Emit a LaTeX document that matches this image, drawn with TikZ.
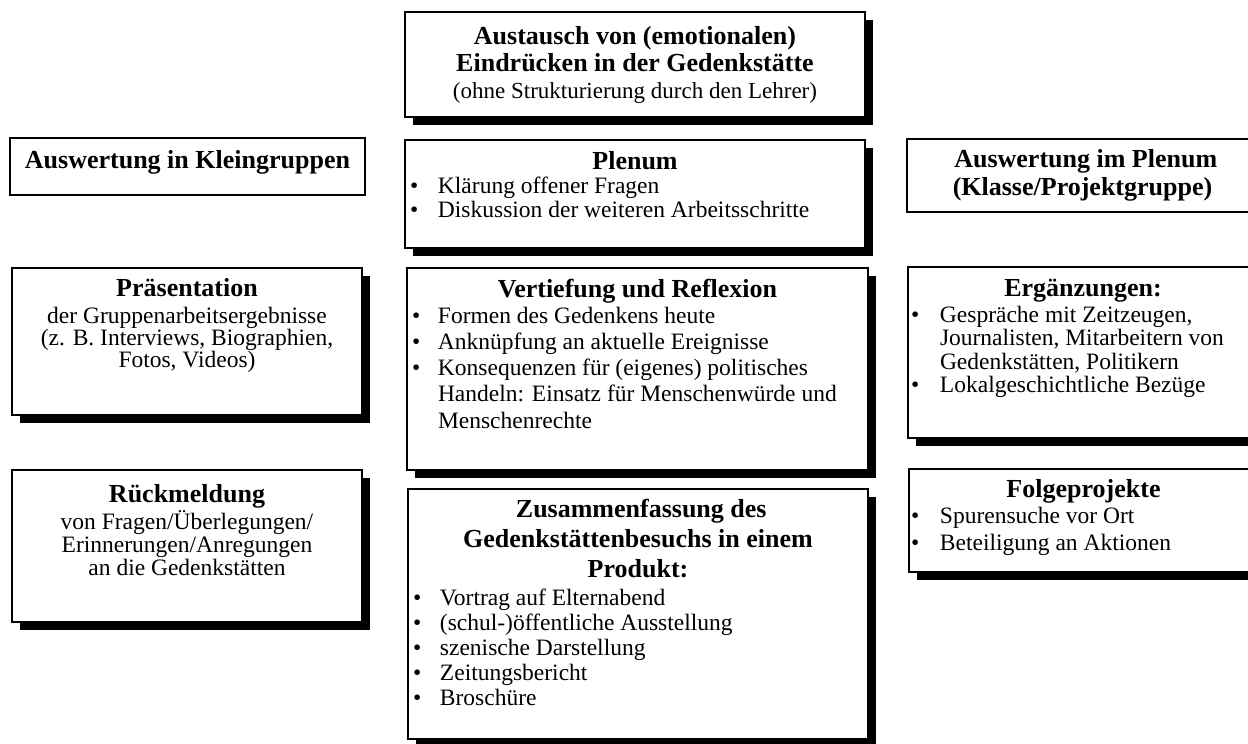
\documentclass[tikz,border=0pt]{standalone}
\usepackage{fontspec}
\setmainfont{Liberation Serif}
\usetikzlibrary{shadows}
\tikzset{
  box/.style={draw, line width=1.6pt, fill=white, inner sep=0pt, outer sep=0pt, anchor=north west, rectangle},
  shbox/.style={box, drop shadow={shadow xshift=8pt, shadow yshift=-8pt, fill=black, opacity=1}},
}
\newcommand\bx[3]{\parbox[c][#2pt][t]{#1pt}{\setlength\parindent{0pt}\lineskiplimit=-100pt\lineskip=0pt #3}}
\newcommand\fl[1]{\rule{0pt}{#1pt}}
\newcommand\hdfont[1][27]{\bfseries\fontsize{26}{#1}\selectfont}
\newcommand\bdfont[1]{\mdseries\fontsize{23.5}{#1}\selectfont}
% #1 bullet offset, #2 text offset, #3 text
\newcommand\bitem[3]{\par\hangindent=#2pt\hangafter=1\noindent\makebox[#2pt][l]{\hspace{#1pt}\textbullet}#3\par}
\begin{document}
\begin{tikzpicture}[x=1pt,y=-1pt]
\useasboundingbox (0,0) rectangle (1248,744);
\clip (0,0) rectangle (1248,744);
% top
\node[shbox] (top) at (405,12) {\bx{460}{105}{\centering\fl{32}\hdfont Austausch von (emotionalen)\\ Eindrücken in der Gedenkstätte\par
  {\mdseries\fontsize{23}{27}\selectfont (ohne Strukturierung durch den Lehrer)\par}}};
% row 2
\node[box] (klein) at (10,138) {\bx{355}{57}{\centering\fl{30}\hdfont Auswertung in Kleingruppen\par}};
\node[shbox] (plenum) at (405,140) {\bx{460}{108}{{\centering\fl{29}\hdfont Plenum\par}\bdfont{24}\raggedright
  \bitem{5}{33}{Klärung offener Fragen}\bitem{5}{33}{Diskussion der weiteren Arbeitsschritte}}};
\node[box] (ausplen) at (907,139) {\bx{351}{73}{\centering\fl{28}\hdfont[28] Auswertung im Plenum\\ (Klasse/Projektgruppe)\par}};
% row 3
\node[shbox] (praes) at (12,268) {\bx{350}{147}{\centering\fl{28}\hdfont Präsentation\par\bdfont{22}\vspace{5pt}
  der Gruppenarbeitsergebnisse\\ (z. B. Interviews, Biographien,\\ Fotos, Videos)\par}};
\node[shbox] (vert) at (407,268) {\bx{461}{202}{{\centering\fl{29}\hdfont Vertiefung und Reflexion\par}\bdfont{26.2}\raggedright
  \bitem{5}{31}{Formen des Gedenkens heute}\bitem{5}{31}{Anknüpfung an aktuelle Ereignisse}
  \bitem{5}{31}{Konsequenzen für (eigenes) politisches\newline Handeln: Einsatz für Menschenwürde und\newline Menschenrechte}}};
\node[shbox] (erg) at (908,267) {\bx{350}{171}{{\centering\fl{29}\hdfont Ergänzungen:\par}\bdfont{23.5}\raggedright\vspace{2.5pt}
  \bitem{3}{32}{Gespräche mit Zeitzeugen,\newline Journalisten, Mitarbeitern von\newline Gedenkstätten, Politikern}
  \bitem{3}{32}{Lokalgeschichtliche Bezüge}}};
% row 4
\node[shbox] (rueck) at (12,470) {\bx{350}{152}{\centering\fl{32}\hdfont Rückmeldung\par\bdfont{23}\vspace{4pt}
  von Fragen/Überlegungen/\\ Erinnerungen/Anregungen\\ an die Gedenkstätten\par}};
\node[shbox] (zus) at (408,489) {\bx{460}{250}{{\centering\fl{28}\hdfont[30] Zusammenfassung des\\ Gedenkstättenbesuchs in einem\\ Produkt:\par}\bdfont{25}\raggedright\vspace{3pt}
  \bitem{5}{32}{Vortrag auf Elternabend}\bitem{5}{32}{(schul-)öffentliche Ausstellung}
  \bitem{5}{32}{szenische Darstellung}\bitem{5}{32}{Zeitungsbericht}\bitem{5}{32}{Broschüre}}};
\node[shbox] (folge) at (909,469) {\bx{349}{103}{{\centering\fl{28}\hdfont Folgeprojekte\par}\bdfont{27}\raggedright\vspace{-1pt}
  \bitem{2}{31}{Spurensuche vor Ort}\bitem{2}{31}{Beteiligung an Aktionen}}};
\end{tikzpicture}
\end{document}
